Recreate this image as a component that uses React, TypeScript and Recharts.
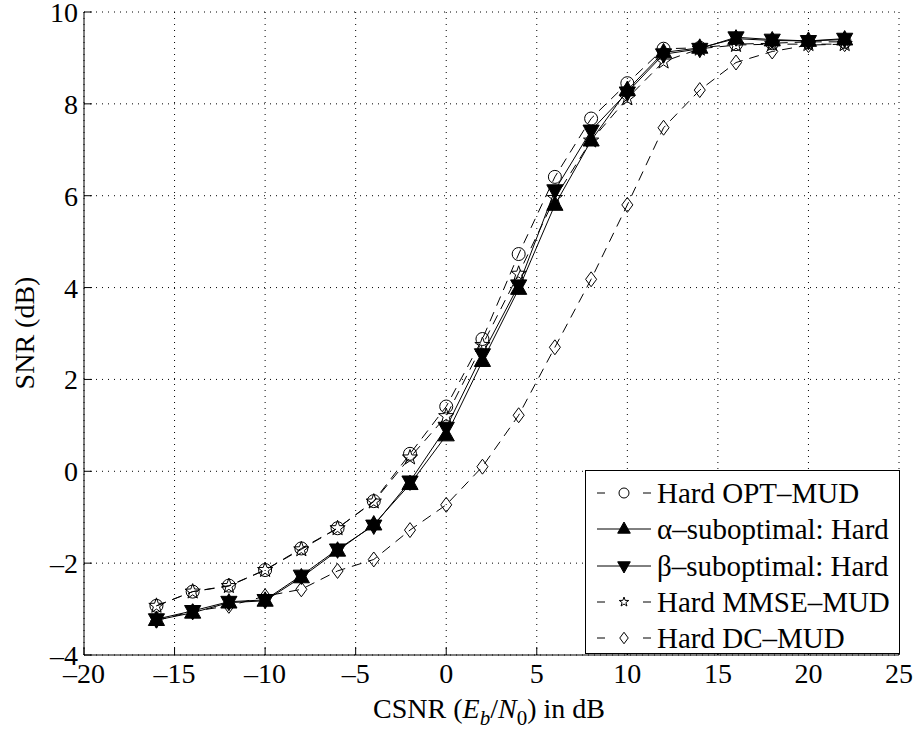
import { LineChart, Line, XAxis, YAxis, CartesianGrid } from 'recharts';

const FONT = '"Liberation Serif", "Times New Roman", Tinos, "DejaVu Serif", serif';
const txt = { fontFamily: FONT };

// CSNR (dB) sample points
const csnr = [-16, -14, -12, -10, -8, -6, -4, -2, 0, 2, 4, 6, 8, 10, 12, 14, 16, 18, 20, 22];

const optMud = [-2.93, -2.62, -2.49, -2.15, -1.68, -1.24, -0.65, 0.38, 1.41, 2.88, 4.73, 6.41, 7.68, 8.45, 9.2, 9.22, 9.3, 9.32, 9.35, 9.35];
const alphaSub = [-3.24, -3.08, -2.86, -2.82, -2.31, -1.73, -1.16, -0.28, 0.78, 2.4, 3.97, 5.8, 7.2, 8.3, 9.12, 9.22, 9.42, 9.38, 9.37, 9.4];
const betaSub = [-3.22, -3.04, -2.84, -2.8, -2.27, -1.7, -1.18, -0.22, 0.95, 2.55, 4.05, 6.12, 7.42, 8.25, 9.08, 9.2, 9.45, 9.4, 9.37, 9.42];
const mmseMud = [-2.93, -2.62, -2.5, -2.15, -1.7, -1.24, -0.66, 0.3, 1.2, 2.75, 4.3, 5.95, 7.2, 8.12, 8.92, 9.2, 9.28, 9.3, 9.3, 9.3];
const dcMud = [-3.25, -3.05, -2.93, -2.72, -2.57, -2.17, -1.92, -1.28, -0.73, 0.1, 1.22, 2.7, 4.18, 5.8, 7.48, 8.3, 8.9, 9.14, 9.28, 9.3];

const xTicks = [-20, -15, -10, -5, 0, 5, 10, 15, 20, 25];
const yTicks = [-4, -2, 0, 2, 4, 6, 8, 10];

const chartData = csnr.map((x, i) => ({
  x,
  opt: optMud[i],
  alpha: alphaSub[i],
  beta: betaSub[i],
  mmse: mmseMud[i],
  dc: dcMud[i],
}));

type Shape = 'circle' | 'up' | 'down' | 'star' | 'diamond';

function markerPath(shape: Shape, cx: number, cy: number, s: number) {
  switch (shape) {
    case 'up':
      return `M${cx},${cy - s} L${cx + s * 0.9},${cy + s * 0.6} L${cx - s * 0.9},${cy + s * 0.6} Z`;
    case 'down':
      return `M${cx},${cy + s} L${cx + s * 0.9},${cy - s * 0.6} L${cx - s * 0.9},${cy - s * 0.6} Z`;
    case 'diamond':
      return `M${cx},${cy - s * 1.15} L${cx + s * 0.85},${cy} L${cx},${cy + s * 1.15} L${cx - s * 0.85},${cy} Z`;
    case 'star': {
      const pts: string[] = [];
      for (let k = 0; k < 10; k++) {
        const r = k % 2 === 0 ? s : s * 0.4;
        const a = -Math.PI / 2 + (k * Math.PI) / 5;
        pts.push(`${cx + r * Math.cos(a)},${cy + r * Math.sin(a)}`);
      }
      return `M${pts.join(' L')} Z`;
    }
    default:
      return '';
  }
}

function Marker({ shape, cx, cy, s, filled }: { shape: Shape; cx: number; cy: number; s: number; filled: boolean }) {
  if (shape === 'circle') {
    return <circle cx={cx} cy={cy} r={s} fill={filled ? '#000' : 'none'} stroke="#000" strokeWidth={1} />;
  }
  return <path d={markerPath(shape, cx, cy, s)} fill={filled ? '#000' : 'none'} stroke="#000" strokeWidth={1} />;
}

const makeDot = (shape: Shape, filled: boolean, s: number) => (props: any) => {
  const { cx, cy, index } = props;
  if (cx == null || cy == null) return <g key={index} />;
  return (
    <g key={`${shape}-${index}`}>
      <Marker shape={shape} cx={cx} cy={cy} s={s} filled={filled} />
    </g>
  );
};

const SERIES = [
  { key: 'opt', name: 'Hard OPT\u2013MUD', shape: 'circle' as Shape, filled: false, dashed: true, size: 6.5 },
  { key: 'alpha', name: '\u03b1\u2013suboptimal: Hard', shape: 'up' as Shape, filled: true, dashed: false, size: 9 },
  { key: 'beta', name: '\u03b2\u2013suboptimal: Hard', shape: 'down' as Shape, filled: true, dashed: false, size: 9 },
  { key: 'mmse', name: 'Hard MMSE\u2013MUD', shape: 'star' as Shape, filled: false, dashed: true, size: 8 },
  { key: 'dc', name: 'Hard DC\u2013MUD', shape: 'diamond' as Shape, filled: false, dashed: true, size: 6.5 },
];

const TICK = 8;
const fmt = (v: number) => (v < 0 ? `\u2013${Math.abs(v)}` : `${v}`);

const BottomTick = (props: any) => {
  const { x, y, payload } = props;
  return (
    <g>
      <line x1={x} y1={y} x2={x} y2={y - TICK} stroke="#000" />
      <text x={x} y={y + 28} textAnchor="middle" fontSize={28} style={txt} fill="#000">
        {fmt(payload.value)}
      </text>
    </g>
  );
};

const TopTick = (props: any) => {
  const { x, y } = props;
  return <line x1={x} y1={y} x2={x} y2={y + TICK} stroke="#000" />;
};

const LeftTick = (props: any) => {
  const { x, y, payload } = props;
  return (
    <g>
      <line x1={x} y1={y} x2={x + TICK} y2={y} stroke="#000" />
      <text x={x - 6} y={y + 10} textAnchor="end" fontSize={28} style={txt} fill="#000">
        {fmt(payload.value)}
      </text>
    </g>
  );
};

const RightTick = (props: any) => {
  const { x, y } = props;
  return <line x1={x} y1={y} x2={x - TICK} y2={y} stroke="#000" />;
};

const XLabel = () => (
  <text x={489} y={718} textAnchor="middle" fontSize={28} style={txt} fill="#000">
    CSNR (<tspan fontStyle="italic" style={txt}>E</tspan>
    <tspan fontStyle="italic" fontSize={21} dy={7} style={txt}>b</tspan>
    <tspan dy={-7} style={txt}>/</tspan>
    <tspan fontStyle="italic" style={txt}>N</tspan>
    <tspan fontSize={21} dy={7} style={txt}>0</tspan>
    <tspan dy={-7} style={txt}>) in dB</tspan>
  </text>
);

const YLabel = () => (
  <text x={0} y={0} transform="translate(34,333) rotate(-90)" textAnchor="middle" fontSize={28} style={txt} fill="#000">
    SNR (dB)
  </text>
);

function LegendBox() {
  return (
    <div
      style={{
        position: 'absolute',
        left: 585,
        top: 470,
        width: 313,
        height: 182,
        border: '1px solid #000',
        background: '#fff',
        color: '#000',
      }}
    >
      {SERIES.map((s, i) => (
        <div key={s.key} style={{ position: 'absolute', left: 0, top: 4 + i * 36.3, height: 36, display: 'flex', alignItems: 'center' }}>
          <svg width={70} height={36} style={{ display: 'block' }}>
            {s.dashed ? (
              <>
                <line x1={11} y1={18} x2={19} y2={18} stroke="#000" />
                <line x1={57} y1={18} x2={65} y2={18} stroke="#000" />
              </>
            ) : (
              <line x1={11} y1={18} x2={65} y2={18} stroke="#000" />
            )}
            <Marker shape={s.shape} cx={38} cy={18} s={s.shape === 'up' || s.shape === 'down' ? 7 : 5} filled={s.filled} />
          </svg>
          <span style={{ fontFamily: FONT, fontSize: 29, marginLeft: 1, whiteSpace: 'nowrap', lineHeight: '36px' }}>{s.name}</span>
        </div>
      ))}
    </div>
  );
}

export default function App() {
  return (
    <div style={{ position: 'absolute', left: 0, top: 0, width: 918, height: 733, background: '#fff' }}>
      <LineChart width={918} height={733} data={chartData} margin={{ top: 12, right: 19, left: 0, bottom: 0 }}>
        <CartesianGrid stroke="#000" strokeDasharray="1 5" strokeWidth={1} />
        <XAxis
          dataKey="x"
          type="number"
          domain={[-20, 25]}
          ticks={xTicks}
          height={78}
          stroke="#000"
          tickSize={0}
          tickMargin={0}
          tickLine={false}
          tick={BottomTick}
          interval={0}
          label={<XLabel />}
        />
        <XAxis
          xAxisId="top"
          orientation="top"
          dataKey="x"
          type="number"
          domain={[-20, 25]}
          ticks={xTicks}
          height={0}
          stroke="#000"
          tickSize={0}
          tickMargin={0}
          tickLine={false}
          tick={TopTick}
          interval={0}
        />
        <YAxis
          type="number"
          domain={[-4, 10]}
          ticks={yTicks}
          width={84}
          stroke="#000"
          tickSize={0}
          tickMargin={0}
          tickLine={false}
          tick={LeftTick}
          interval={0}
          label={<YLabel />}
        />
        <YAxis
          yAxisId="right"
          orientation="right"
          type="number"
          domain={[-4, 10]}
          ticks={yTicks}
          width={0}
          stroke="#000"
          tickSize={0}
          tickMargin={0}
          tickLine={false}
          tick={RightTick}
          interval={0}
        />
        {SERIES.map(s => (
          <Line
            key={s.key}
            dataKey={s.key}
            type="linear"
            stroke="#000"
            strokeWidth={1}
            strokeDasharray={s.dashed ? '10 7' : undefined}
            dot={makeDot(s.shape, s.filled, s.size)}
            activeDot={false}
            isAnimationActive={false}
          />
        ))}
      </LineChart>
      <LegendBox />
    </div>
  );
}
